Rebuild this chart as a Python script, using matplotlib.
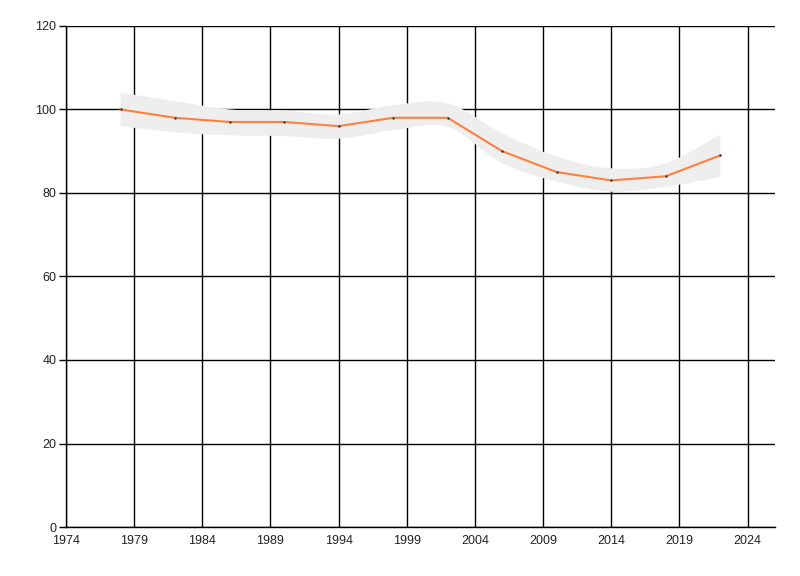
import numpy as np
import matplotlib
matplotlib.use("Agg")
import matplotlib.pyplot as plt
from matplotlib.path import Path
from matplotlib.patches import PathPatch

# ── Data ──────────────────────────────────────────────────────────────────────
years = [1978, 1982, 1986, 1990, 1994, 1998, 2002, 2006, 2010, 2014, 2018, 2022]
values = [100, 98, 97, 97, 96, 98, 98, 90, 85, 83, 84, 89]
band_upper = [104, 102, 100, 99.7, 98.8, 101, 101.5, 94.3, 88.7, 85.9, 87.1, 94]
band_lower = [96, 94.5, 93.8, 93.6, 93, 95, 95.8, 87.1, 82.7, 80.3, 81.5, 83.8]

x_ticks = [1974, 1979, 1984, 1989, 1994, 1999, 2004, 2009, 2014, 2019, 2024]
y_ticks = [0, 20, 40, 60, 80, 100, 120]

LINE_COLOR = "#FF7F3F"
BAND_COLOR = "#EEEEEE"


def smooth_segments(xs, ys):
    """Catmull-Rom style Bezier control points, for drawing a smooth edge."""
    verts, codes = [], []
    n = len(xs)
    for i in range(n - 1):
        x0, y0 = xs[max(i - 1, 0)], ys[max(i - 1, 0)]
        x1, y1 = xs[i], ys[i]
        x2, y2 = xs[i + 1], ys[i + 1]
        x3, y3 = xs[min(i + 2, n - 1)], ys[min(i + 2, n - 1)]
        c1 = (x1 + (x2 - x0) / 6, y1 + (y2 - y0) / 6)
        c2 = (x2 - (x3 - x1) / 6, y2 - (y3 - y1) / 6)
        verts += [c1, c2, (x2, y2)]
        codes += [Path.CURVE4] * 3
    return verts, codes


# ── Plot ──────────────────────────────────────────────────────────────────────
fig = plt.figure(figsize=(8, 5.76), dpi=100)
ax = fig.add_axes([0.0825, 0.085, 0.886, 0.870])

# confidence band (smoothed edges)
up_v, up_c = smooth_segments(years, band_upper)
lo_v, lo_c = smooth_segments(years[::-1], band_lower[::-1])
verts = [(years[0], band_upper[0])] + up_v + [(years[-1], band_lower[-1])] + lo_v + [(0, 0)]
codes = [Path.MOVETO] + up_c + [Path.LINETO] + lo_c + [Path.CLOSEPOLY]
ax.add_patch(PathPatch(Path(verts, codes), facecolor=BAND_COLOR,
                       edgecolor="none", zorder=2))

ax.plot(years, values, color=LINE_COLOR, linewidth=1.5, zorder=3,
        solid_joinstyle="round")
ax.scatter(years, values, s=3, color="#333333", zorder=4, linewidths=0)

ax.set_xlim(1974, 2026)
ax.set_ylim(0, 120)
ax.set_xticks(x_ticks)
ax.set_yticks(y_ticks)
ax.set_xticklabels([str(t) for t in x_ticks])
ax.set_yticklabels([str(t) for t in y_ticks])

ax.grid(True, color="black", linewidth=1.0, zorder=1)
ax.set_axisbelow(True)

for side in ["top", "right"]:
    ax.spines[side].set_visible(False)
for side in ["left", "bottom"]:
    ax.spines[side].set_color("black")
    ax.spines[side].set_linewidth(1.0)

ax.tick_params(axis="y", length=5, width=1, pad=2, labelsize=9,
               labelcolor="#222222")
ax.tick_params(axis="x", length=0, pad=6, labelsize=9, labelcolor="#222222")
for lbl in ax.get_xticklabels() + ax.get_yticklabels():
    lbl.set_family(["Liberation Sans", "DejaVu Sans"])

fig.savefig("out.png", dpi=100)
plt.close(fig)
